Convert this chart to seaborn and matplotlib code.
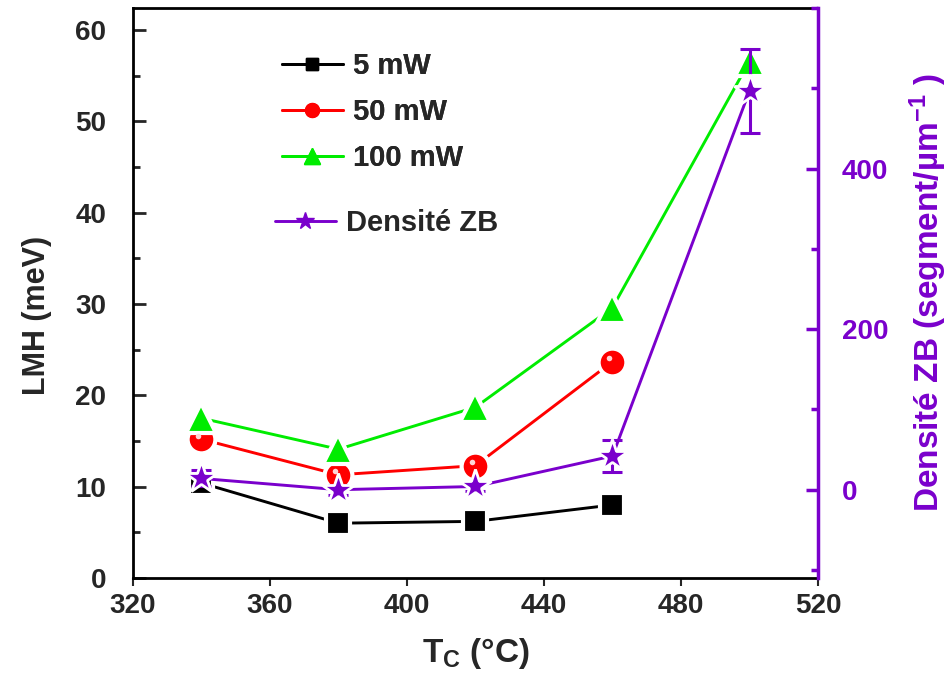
import numpy as np
import pandas as pd
import seaborn as sns
import matplotlib
matplotlib.use("Agg")
import matplotlib.pyplot as plt
from matplotlib.lines import Line2D
from matplotlib.ticker import MultipleLocator

# ---- data ----
temps = [340, 380, 420, 460, 500]
temps_4 = [340, 380, 420, 460]
lmh_5mw = [10.4, 6.0, 6.2, 8.0]
lmh_50mw = [15.2, 11.3, 12.3, 23.7]
lmh_100mw = [17.5, 14.1, 18.7, 29.6, 56.6]
densite_zb = [14, 0, 4, 42, 497]
densite_err = [10, 6, 6, 20, 52]
series_labels = ["5 mW", "50 mW", "100 mW"]
density_label = "Densité ZB"

# ---- style ----
sns.set_style("ticks")
plt.rcParams["font.family"] = ["Liberation Sans", "DejaVu Sans"]
plt.rcParams["font.weight"] = "bold"
plt.rcParams["mathtext.fontset"] = "custom"
plt.rcParams["mathtext.rm"] = "Liberation Sans:bold"
plt.rcParams["mathtext.bf"] = "Liberation Sans:bold"
plt.rcParams["mathtext.default"] = "rm"

BLACK = "#000000"
RED = "#ff0000"
GREEN = "#00ec00"
PURPLE = "#7a00cc"

fig = plt.figure(figsize=(9.49, 6.84), dpi=100)
ax = fig.add_axes([0.140, 0.155, 0.722, 0.833])
ax2 = ax.twinx()

df1 = pd.DataFrame({"T": temps_4, "v": lmh_5mw})
df2 = pd.DataFrame({"T": temps_4, "v": lmh_50mw})
df3 = pd.DataFrame({"T": temps, "v": lmh_100mw})
df4 = pd.DataFrame({"T": temps, "v": densite_zb})

lw = 2.1
mew = 3.0
sns.lineplot(data=df1, x="T", y="v", ax=ax, color=BLACK, lw=lw, marker="s",
             markersize=17, markerfacecolor=BLACK, markeredgecolor="white",
             markeredgewidth=mew, label=series_labels[0], legend=False)
sns.lineplot(data=df2, x="T", y="v", ax=ax, color=RED, lw=lw, marker="o",
             markersize=20, markerfacecolor=RED, markeredgecolor="white",
             markeredgewidth=mew, label=series_labels[1], legend=False)
sns.lineplot(data=df3, x="T", y="v", ax=ax, color=GREEN, lw=lw, marker="^",
             markersize=22, markerfacecolor=GREEN, markeredgecolor="white",
             markeredgewidth=mew, label=series_labels[2], legend=False)
# sphere highlight on red markers
ax.scatter(np.array(temps_4) - 0.9, np.array(lmh_50mw) + 0.4, s=16,
           color="#ffd6d6", zorder=5, linewidths=0)

ax2.errorbar(temps, densite_zb, yerr=densite_err, fmt="none",
             ecolor=PURPLE, elinewidth=2.2, capsize=7, capthick=2.2, zorder=1)
sns.lineplot(data=df4, x="T", y="v", ax=ax2, color=PURPLE, lw=lw, marker="*",
             markersize=24, markerfacecolor=PURPLE, markeredgecolor="white",
             markeredgewidth=2.0, label=density_label, legend=False)

# ---- axes ----
ax.set_xlim(320, 520)
ax.set_ylim(0, 62.4)
ax2.set_ylim(-110, 600)
ax.xaxis.set_major_locator(MultipleLocator(40))
ax.yaxis.set_major_locator(MultipleLocator(10))
ax.yaxis.set_minor_locator(MultipleLocator(5))
ax2.yaxis.set_major_locator(MultipleLocator(200))
ax2.yaxis.set_minor_locator(MultipleLocator(100))
ax2.set_yticks([0, 200, 400])

for sp in ["left", "bottom", "top"]:
    ax.spines[sp].set_linewidth(2.0)
    ax.spines[sp].set_color(BLACK)
ax.spines["right"].set_visible(False)
ax2.spines["right"].set_color(PURPLE)
ax2.spines["right"].set_linewidth(2.5)
for sp in ["left", "bottom", "top"]:
    ax2.spines[sp].set_visible(False)

ax.tick_params(axis="y", which="major", direction="in", length=9, width=2,
               labelsize=20, pad=19, right=False)
ax.tick_params(axis="y", which="minor", direction="in", length=5, width=2, right=False)
ax.tick_params(axis="x", which="major", direction="out", length=6, width=1.5,
               labelsize=20, pad=5, top=False)
ax2.tick_params(axis="y", which="major", direction="in", length=9, width=2.5,
                labelsize=20, pad=17, colors=PURPLE)
ax2.tick_params(axis="y", which="minor", direction="in", length=5, width=2.5,
                colors=PURPLE)

ax.set_xlabel(r"T$_{\mathregular{C}}$ (°C)", fontsize=24, fontweight="bold",
              labelpad=12)
ax.set_ylabel("LMH (meV)", fontsize=22, fontweight="bold")
ax.yaxis.set_label_coords(-0.118, 0.46)
ax2.set_ylabel(r"Densité ZB (segment/µm$^{-1}$ )", fontsize=24, fontweight="bold",
               color=PURPLE, labelpad=14)

# ---- legends ----
h1 = [Line2D([], [], color=BLACK, lw=lw, marker="s", ms=9, mfc=BLACK, mec=BLACK),
      Line2D([], [], color=RED, lw=lw, marker="o", ms=10, mfc=RED, mec=RED),
      Line2D([], [], color=GREEN, lw=lw, marker="^", ms=11, mfc=GREEN, mec=GREEN)]
leg1 = ax.legend(h1, series_labels, loc="upper left", bbox_to_anchor=(0.200, 0.944),
                 frameon=False, fontsize=21, handlelength=2.1, handletextpad=0.35,
                 labelspacing=0.62, borderaxespad=0)
ax.add_artist(leg1)
h2 = [Line2D([], [], color=PURPLE, lw=lw, marker="*", ms=13, mfc=PURPLE, mec=PURPLE)]
ax2.legend(h2, [density_label], loc="upper left", bbox_to_anchor=(0.19, 0.668),
           frameon=False, fontsize=21, handlelength=2.1, handletextpad=0.35,
           borderaxespad=0)

fig.savefig("out.png", dpi=100)
